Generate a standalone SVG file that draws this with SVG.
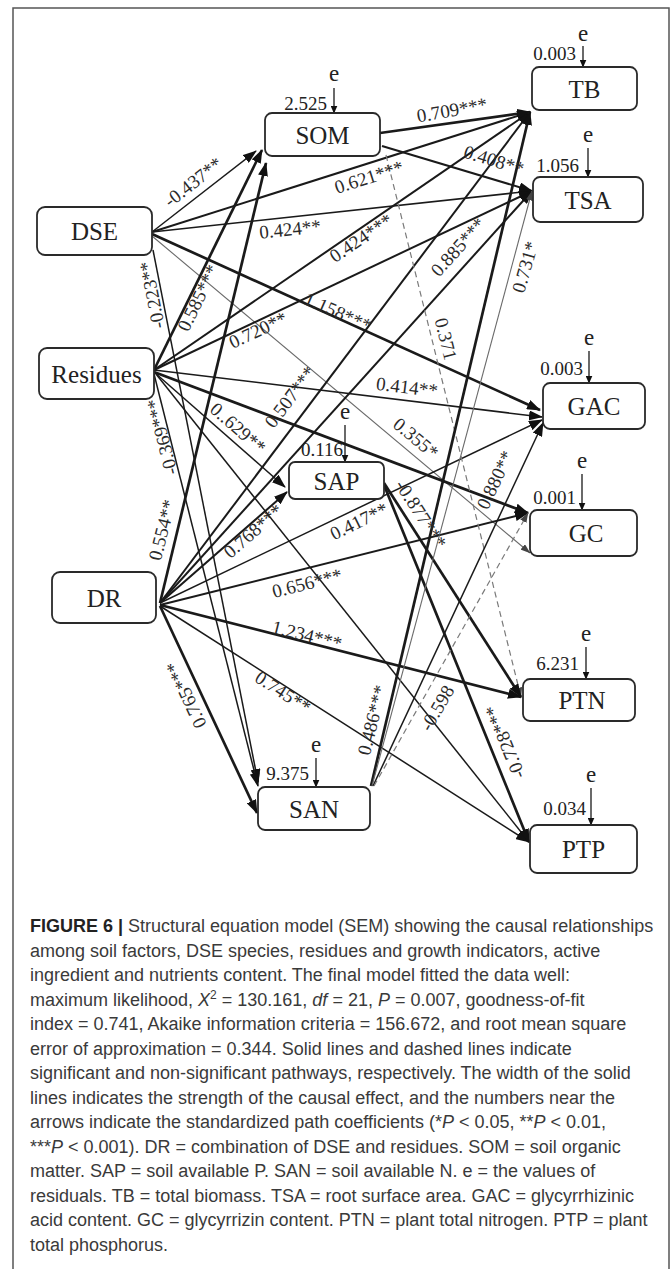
<svg xmlns="http://www.w3.org/2000/svg" width="672" height="1269" viewBox="0 0 672 1269">
<style>
.node rect{fill:#fff;stroke:#2a2a2a;stroke-width:1.8}
.node text{font-family:"Liberation Serif","Times New Roman",serif;font-size:25px;fill:#222;text-anchor:middle;dominant-baseline:central}
.c line{stroke:#1a1a1a;fill:none}
.c .w1{stroke-width:1.5;marker-end:url(#ah)}
.c .w2{stroke-width:2;marker-end:url(#ah)}
.c .w3{stroke-width:2.7;marker-end:url(#ah)}
.c .thin{stroke:#6a6a6a;stroke-width:1.1;marker-end:url(#ahs)}
.c .dash{stroke:#7a7a7a;stroke-width:1.2;stroke-dasharray:6 4;marker-end:url(#ahs)}
.lbl text{font-family:"Liberation Serif","Times New Roman",serif;font-size:19px;fill:#2a2a2a;text-anchor:middle;dominant-baseline:central}
.res line{stroke:#1a1a1a;stroke-width:1.3;marker-end:url(#ahe)}
.res text{font-family:"Liberation Serif","Times New Roman",serif;fill:#222}
.res .e{font-size:23px;text-anchor:middle}
.res .v{font-size:19px;text-anchor:end}
.cap{font-family:"Liberation Sans",Arial,sans-serif;font-size:18px;fill:#3a3a3a}
.cap .b{font-weight:bold;fill:#222}
.cap .i{font-style:italic}
</style>
<defs>
<marker id="ah" viewBox="0 0 14 10" refX="13" refY="5" markerWidth="14" markerHeight="10" markerUnits="userSpaceOnUse" orient="auto"><path d="M0,0L14,5L0,10z" fill="#111"/></marker>
<marker id="ahs" viewBox="0 0 10 7" refX="9.5" refY="3.5" markerWidth="10" markerHeight="7" markerUnits="userSpaceOnUse" orient="auto"><path d="M0,0L10,3.5L0,7z" fill="#444"/></marker>
<marker id="ahe" viewBox="0 0 8 7" refX="7.5" refY="3.5" markerWidth="8" markerHeight="7" markerUnits="userSpaceOnUse" orient="auto"><path d="M0,0L8,3.5L0,7z" fill="#111"/></marker>
</defs>
<rect width="672" height="1269" fill="#fff"/>
<path d="M13,1269V8H669V1269" fill="none" stroke="#555" stroke-width="1.5"/>

<g id="connectors" class="c">
<line class="w1" x1="152" y1="232" x2="256" y2="151"/>
<line class="w2" x1="152" y1="232" x2="530" y2="112"/>
<line class="w1" x1="152" y1="232" x2="532" y2="191"/>
<line class="w3" x1="152" y1="234" x2="540" y2="410"/>
<line class="thin" x1="152" y1="236" x2="530" y2="553"/>
<line class="w1" x1="153" y1="250" x2="258" y2="782"/>
<line class="w3" x1="154" y1="370" x2="262" y2="150"/>
<line class="w2" x1="154" y1="370" x2="530" y2="112"/>
<line class="w2" x1="154" y1="370" x2="532" y2="191"/>
<line class="w1" x1="154" y1="370" x2="542" y2="417"/>
<line class="w3" x1="154" y1="372" x2="528" y2="513"/>
<line class="w1" x1="154" y1="372" x2="285" y2="487"/>
<line class="w1" x1="154" y1="374" x2="258" y2="786"/>
<line class="w1" x1="156" y1="374" x2="529" y2="842"/>
<line class="w3" x1="160" y1="603" x2="266" y2="163"/>
<line class="w2" x1="160" y1="603" x2="287" y2="492"/>
<line class="w2" x1="160" y1="603" x2="530" y2="112"/>
<line class="w2" x1="160" y1="603" x2="532" y2="191"/>
<line class="w1" x1="160" y1="603" x2="542" y2="420"/>
<line class="w2" x1="160" y1="605" x2="528" y2="513"/>
<line class="w3" x1="160" y1="605" x2="521" y2="697"/>
<line class="w1" x1="160" y1="606" x2="529" y2="842"/>
<line class="w3" x1="160" y1="606" x2="257" y2="813"/>
<line class="w3" x1="380" y1="133" x2="530" y2="112"/>
<line class="w2" x1="382" y1="146" x2="532" y2="191"/>
<line class="dash" x1="386" y1="155" x2="521" y2="697"/>
<line class="w3" x1="384" y1="483" x2="521" y2="697"/>
<line class="w3" x1="384" y1="485" x2="529" y2="842"/>
<line class="w3" x1="371" y1="786" x2="530" y2="112"/>
<line class="thin" x1="372" y1="786" x2="532" y2="191"/>
<line class="w1" x1="373" y1="786" x2="543" y2="423"/>
<line class="dash" x1="374" y1="786" x2="528" y2="513"/>
</g>

<g id="path-labels" class="lbl">
<text transform="translate(193,182) rotate(-38)">-0.437**</text>
<text transform="translate(452,110) rotate(-10)">0.709***</text>
<text transform="translate(494,160) rotate(17)">0.408**</text>
<text transform="translate(369,177) rotate(-17.6)">0.621***</text>
<text transform="translate(290,229) rotate(-6)">0.424**</text>
<text transform="translate(361,238) rotate(-34)">0.424***</text>
<text transform="translate(258,330) rotate(-25)">0.720**</text>
<text transform="translate(198,298) rotate(-64)">0.585***</text>
<text transform="translate(152,295) rotate(-101)">-0.223**</text>
<text transform="translate(338,312) rotate(24)">1.158***</text>
<text transform="translate(458,247) rotate(-48)">0.885***</text>
<text transform="translate(525,267) rotate(-74)">0.731*</text>
<text transform="translate(446,339) rotate(76)">0.371</text>
<text transform="translate(407,387) rotate(7)">0.414**</text>
<text transform="translate(290,397) rotate(-53)">0.507***</text>
<text transform="translate(238,428) rotate(41)">0..629**</text>
<text transform="translate(162,437) rotate(-104)">-0.369***</text>
<text transform="translate(416,438) rotate(40)">0.355*</text>
<text transform="translate(495,480) rotate(-65)">0.880**</text>
<text transform="translate(421,514) rotate(57)">-0.877***</text>
<text transform="translate(359,521) rotate(-26)">0.417**</text>
<text transform="translate(253,531) rotate(-41)">0.768***</text>
<text transform="translate(162,530) rotate(-76)">0.554**</text>
<text transform="translate(307,583) rotate(-14)">0.656***</text>
<text transform="translate(307,635) rotate(14)">1.234***</text>
<text transform="translate(283,692) rotate(33)">0.745**</text>
<text transform="translate(186,695) rotate(-115)">0.765***</text>
<text transform="translate(372,720) rotate(-76)">0.486***</text>
<text transform="translate(437,708) rotate(-60)">-0.598</text>
<text transform="translate(505,742) rotate(-112)">-0.728***</text>
</g>

<g id="residuals" class="res">
<text class="e" x="334" y="81">e</text><line x1="334" y1="88" x2="334" y2="113"/><text class="v" x="327" y="110">2.525</text>
<text class="e" x="583" y="41">e</text><line x1="583" y1="46" x2="583" y2="67"/><text class="v" x="576" y="60">0.003</text>
<text class="e" x="588" y="142">e</text><line x1="588" y1="148" x2="588" y2="177"/><text class="v" x="579" y="172">1.056</text>
<text class="e" x="589" y="345">e</text><line x1="589" y1="351" x2="589" y2="383"/><text class="v" x="583" y="375">0.003</text>
<text class="e" x="345" y="419">e</text><line x1="345" y1="425" x2="345" y2="462"/><text class="v" x="343" y="456">0.116</text>
<text class="e" x="582" y="468">e</text><line x1="582" y1="474" x2="582" y2="510"/><text class="v" x="576" y="504">0.001</text>
<text class="e" x="586" y="641">e</text><line x1="586" y1="647" x2="586" y2="679"/><text class="v" x="579" y="670">6.231</text>
<text class="e" x="316" y="752">e</text><line x1="316" y1="758" x2="316" y2="787"/><text class="v" x="309" y="780">9.375</text>
<text class="e" x="591" y="782">e</text><line x1="591" y1="788" x2="591" y2="825"/><text class="v" x="586" y="815">0.034</text>
</g>

<g id="SOM" class="node"><rect x="265" y="113" width="115" height="43" rx="7"/><text x="322.5" y="135">SOM</text></g>
<g id="TB" class="node"><rect x="532" y="67" width="105" height="43" rx="7"/><text x="584.5" y="89">TB</text></g>
<g id="TSA" class="node"><rect x="533" y="177" width="110" height="45" rx="7"/><text x="588" y="200">TSA</text></g>
<g id="DSE" class="node"><rect x="37" y="207" width="115" height="48" rx="8"/><text x="94.5" y="231.5">DSE</text></g>
<g id="Residues" class="node"><rect x="39" y="348" width="115" height="51" rx="8"/><text x="96.5" y="374">Residues</text></g>
<g id="GAC" class="node"><rect x="543" y="383" width="102" height="46" rx="7"/><text x="594" y="406.5">GAC</text></g>
<g id="SAP" class="node"><rect x="289" y="462" width="95" height="37" rx="6"/><text x="336.5" y="481">SAP</text></g>
<g id="GC" class="node"><rect x="530" y="510" width="107" height="46" rx="7"/><text x="586" y="533.5">GC</text></g>
<g id="DR" class="node"><rect x="52" y="572" width="104" height="51" rx="8"/><text x="104" y="598">DR</text></g>
<g id="PTN" class="node"><rect x="523" y="679" width="112" height="42" rx="7"/><text x="582" y="700.5">PTN</text></g>
<g id="SAN" class="node"><rect x="258" y="787" width="112" height="43" rx="7"/><text x="314" y="809">SAN</text></g>
<g id="PTP" class="node"><rect x="530" y="825" width="107" height="48" rx="7"/><text x="583.5" y="849.5">PTP</text></g>

<g id="caption" class="cap">
<text x="30" y="932"><tspan class="b">FIGURE 6 | </tspan>Structural equation model (SEM) showing the causal relationships</text>
<text x="30" y="956.5">among soil factors, DSE species, residues and growth indicators, active</text>
<text x="30" y="981">ingredient and nutrients content. The final model fitted the data well:</text>
<text x="30" y="1005.5">maximum likelihood, <tspan class="i">X</tspan><tspan font-size="12" dy="-7">2</tspan><tspan dy="7"> = 130.161, </tspan><tspan class="i">df</tspan> = 21, <tspan class="i">P</tspan> = 0.007, goodness-of-fit</text>
<text x="30" y="1030">index = 0.741, Akaike information criteria = 156.672, and root mean square</text>
<text x="30" y="1054.5">error of approximation = 0.344. Solid lines and dashed lines indicate</text>
<text x="30" y="1079">significant and non-significant pathways, respectively. The width of the solid</text>
<text x="30" y="1103.5">lines indicates the strength of the causal effect, and the numbers near the</text>
<text x="30" y="1128">arrows indicate the standardized path coefficients (*<tspan class="i">P</tspan> &lt; 0.05, **<tspan class="i">P</tspan> &lt; 0.01,</text>
<text x="30" y="1152.5">***<tspan class="i">P</tspan> &lt; 0.001). DR = combination of DSE and residues. SOM = soil organic</text>
<text x="30" y="1177">matter. SAP = soil available P. SAN = soil available N. e = the values of</text>
<text x="30" y="1201.5">residuals. TB = total biomass. TSA = root surface area. GAC = glycyrrhizinic</text>
<text x="30" y="1226">acid content. GC = glycyrrizin content. PTN = plant total nitrogen. PTP = plant</text>
<text x="30" y="1250.5">total phosphorus.</text>
</g>
</svg>
